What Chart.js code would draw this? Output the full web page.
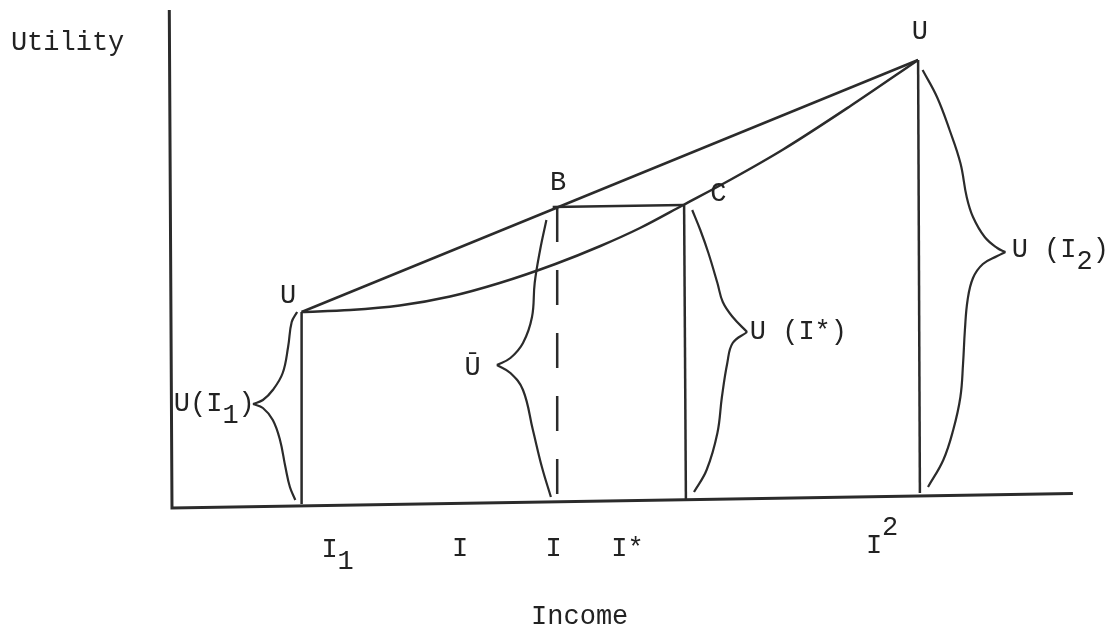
<!DOCTYPE html>
<html><head><meta charset="utf-8">
<script src="https://cdn.jsdelivr.net/npm/chart.js@4/dist/chart.umd.min.js"></script>
<style>html,body{margin:0;padding:0;background:#fff;}canvas{display:block;}</style>
</head><body>
<canvas id="c" width="1111" height="630"></canvas>
<script>
// ---- data (income on x, utility on y) ----
const axisIncome  = [-0.3, 0, 100.1];
const axisUtility = [99, -0.6, 2.3];

const chordIncome  = [14.4, 82.9];
const chordUtility = [38.6, 89.0];

const curveIncome  = [14.4, 19.8, 25.3, 30.9, 36.4, 42.6, 47.6, 52.0, 56.8, 62.0, 67.9, 75.3, 82.9];
const curveUtility = [38.6, 39.0, 39.9, 41.7, 44.4, 48.2, 51.8, 55.4, 60.0, 65.0, 71.1, 79.7, 89.0];

const bcIncome  = [42.3, 56.8];
const bcUtility = [59.6, 60.0];

const v1Income = [14.4, 14.4], v1Utility = [38.6, 0.2];
const vDashIncome = [42.8, 42.8], vDashUtility = [59.6, 1.0];
const v3Income = [56.9, 57.1], v3Utility = [60.0, 1.2];
const v4Income = [82.9, 83.1], v4Utility = [89.0, 2.4];

const brace1UpIncome  = [13.9, 13.3, 12.9, 12.3, 11.2, 10.1, 9.0];
const brace1UpUtility = [38.6, 36.6, 31.6, 26.4, 23.0, 21.0, 20.2];
const brace1LoIncome  = [9.0, 10.1, 11.2, 12.0, 12.6, 13.1, 13.7];
const brace1LoUtility = [20.2, 19.4, 17.0, 13.0, 7.6, 3.6, 1.0];

const brace2UpIncome  = [41.6, 40.9, 40.3, 40.0, 39.0, 37.6, 36.1];
const brace2UpUtility = [57.0, 51.0, 44.4, 37.6, 32.4, 29.4, 28.0];
const brace2LoIncome  = [36.1, 37.6, 39.0, 40.1, 41.1, 42.1];
const brace2LoUtility = [28.0, 26.4, 23.0, 15.0, 7.6, 1.6];

const brace3UpIncome  = [57.8, 58.7, 59.6, 60.6, 61.2, 62.3, 63.9];
const brace3UpUtility = [59.0, 55.0, 50.4, 44.4, 40.6, 37.6, 34.6];
const brace3LoIncome  = [63.9, 62.3, 61.7, 61.1, 60.6, 59.4, 58.0];
const brace3LoUtility = [34.6, 32.4, 28.4, 21.6, 14.4, 7.0, 2.6];

const brace4UpIncome  = [83.4, 85.0, 86.4, 87.6, 88.3, 89.0, 90.3, 91.7, 92.6];
const brace4UpUtility = [87.0, 81.6, 75.0, 68.4, 61.6, 57.6, 53.6, 51.4, 50.6];
const brace4LoIncome  = [92.6, 91.7, 90.1, 89.0, 88.4, 88.1, 87.9, 87.6, 86.8, 85.7, 84.0];
const brace4LoUtility = [50.6, 49.8, 48.2, 45.4, 41.0, 35.0, 28.4, 21.6, 15.0, 9.0, 3.6];

// labels: '_' = next char lowered, '^' = next char raised
const labelTexts   = ['Utility', 'Income', 'I_1', 'I', 'I', 'I*', 'I^2', 'U', 'B', 'C', 'U', 'U(I_1)', 'Ū', 'U (I*)', 'U (I_2)'];
const labelIncome  = [-11.6, 45.3, 18.4, 32.0, 42.4, 50.6, 78.9, 83.1, 42.9, 60.7, 12.9, 4.7, 33.4, 69.6, 98.7];
const labelUtility = [92.4, -22.4, -9.0, -8.8, -8.8, -8.8, -8.2, 94.6, 64.4, 62.2, 41.8, 20.2, 27.4, 34.6, 51.0];

// ---- build ----
const zip = (xs, ys) => xs.map((x, i) => ({x, y: ys[i]}));
const INK = '#2b2b2b';
function ds(xs, ys, opts) {
  return Object.assign({
    data: zip(xs, ys), showLine: true, borderColor: INK, borderWidth: 2.2,
    pointRadius: 0, tension: 0, clip: false, fill: false
  }, opts || {});
}
const datasets = [
  ds(axisIncome, axisUtility, {borderWidth: 3}),
  ds(chordIncome, chordUtility, {borderWidth: 2.5}),
  ds(curveIncome, curveUtility, {borderWidth: 2.5, cubicInterpolationMode: 'monotone'}),
  ds(bcIncome, bcUtility, {borderWidth: 2.5}),
  ds(v1Income, v1Utility, {borderWidth: 2.5}),
  ds(vDashIncome, vDashUtility, {borderWidth: 2.5, borderDash: [35, 28]}),
  ds(v3Income, v3Utility, {borderWidth: 2.5}),
  ds(v4Income, v4Utility, {borderWidth: 2.5}),
  ds(brace1UpIncome, brace1UpUtility, {tension: 0.4}),
  ds(brace1LoIncome, brace1LoUtility, {tension: 0.4}),
  ds(brace2UpIncome, brace2UpUtility, {tension: 0.4}),
  ds(brace2LoIncome, brace2LoUtility, {tension: 0.4}),
  ds(brace3UpIncome, brace3UpUtility, {tension: 0.4}),
  ds(brace3LoIncome, brace3LoUtility, {tension: 0.4}),
  ds(brace4UpIncome, brace4UpUtility, {tension: 0.4}),
  ds(brace4LoIncome, brace4LoUtility, {tension: 0.4}),
];

const SUB = 12, SUP = -18;
const textPlugin = {
  id: 'typedLabels',
  afterDatasetsDraw(chart) {
    const ctx = chart.ctx, xs = chart.scales.x, ys = chart.scales.y;
    ctx.save();
    ctx.fillStyle = '#222';
    ctx.font = '27px "Liberation Mono", "DejaVu Sans Mono", monospace';
    ctx.textAlign = 'center';
    ctx.textBaseline = 'middle';
    const pitch = ctx.measureText('M').width;
    labelTexts.forEach((t, k) => {
      const cx = xs.getPixelForValue(labelIncome[k]);
      const cy = ys.getPixelForValue(labelUtility[k]);
      const glyphs = [];
      for (let i = 0; i < t.length; i++) {
        let c = t[i], dy = 0;
        if ((c === '_' || c === '^') && i + 1 < t.length) { dy = c === '_' ? SUB : SUP; c = t[++i]; }
        glyphs.push({c, dy});
      }
      let x = cx - glyphs.length * pitch / 2;
      glyphs.forEach(g => { ctx.fillText(g.c, x + pitch / 2, cy + g.dy); x += pitch; });
    });
    ctx.restore();
  }
};

new Chart(document.getElementById('c'), {
  type: 'scatter',
  data: {datasets},
  options: {
    responsive: false, animation: false,
    layout: {padding: {left: 154, right: 39, top: 5, bottom: 115}},
    elements: {line: {capBezierPoints: false}},
    scales: {
      x: {type: 'linear', min: -2, max: 100, display: false},
      y: {type: 'linear', min: -2, max: 100, display: false}
    },
    plugins: {legend: {display: false}, tooltip: {enabled: false}}
  },
  plugins: [textPlugin]
});
</script>
</body></html>
